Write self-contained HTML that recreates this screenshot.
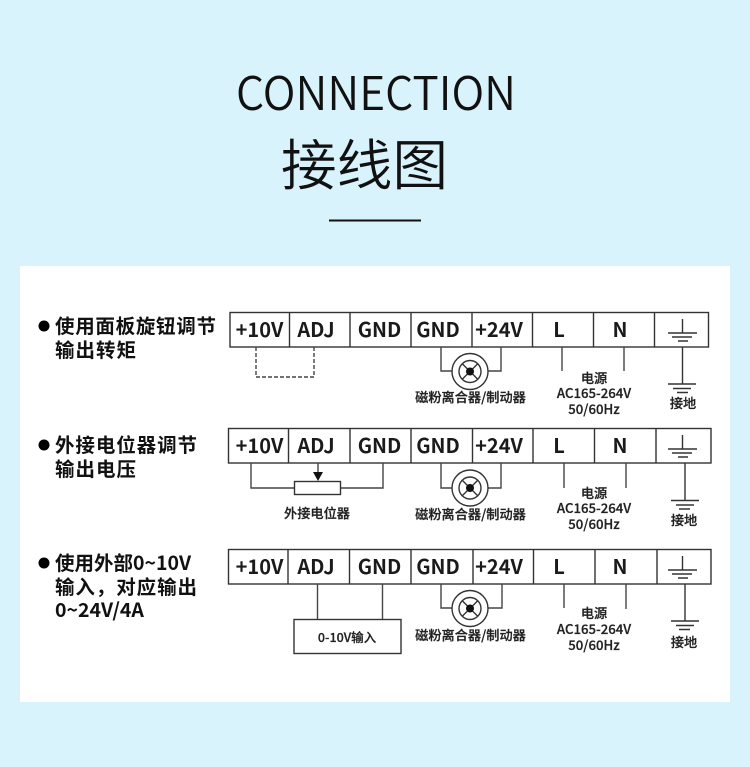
<!DOCTYPE html>
<html><head><meta charset="utf-8"><style>
html,body{margin:0;padding:0;background:#d8f3fb}
svg{display:block}
text{font-family:"Noto Sans CJK SC","Liberation Sans",sans-serif;fill:#111}
.t{font-size:20px;font-weight:700;text-anchor:middle;fill:#1a1a1a}
.l{font-size:19.5px;font-weight:700;fill:#111}
.s{font-size:13.2px;font-weight:500;text-anchor:middle;fill:#222;stroke:#222;stroke-width:.25px}
.b{fill:#fff;stroke:#333;stroke-width:1.4}
.w{fill:none;stroke:#444;stroke-width:1.4}
.g{fill:none;stroke:#333;stroke-width:1.4}
.h{font-weight:350;fill:#111}
</style></head><body>
<svg width="750" height="767" viewBox="0 0 750 767" xmlns="http://www.w3.org/2000/svg">
<rect width="750" height="767" fill="#d8f3fb"/>
<rect x="20" y="266" width="710" height="436" fill="#fff"/>
<text class="h" x="236" y="110" font-size="46.500" textLength="280" lengthAdjust="spacingAndGlyphs">CONNECTION</text>
<text class="h" x="281" y="185" font-size="55" textLength="167" lengthAdjust="spacingAndGlyphs">接线图</text>
<rect x="329" y="219.500" width="92" height="2" fill="#111"/>

<circle cx="44" cy="326" r="5.500" fill="#000"/>
<text class="l" x="55" y="333" textLength="161">使用面板旋钮调节</text>
<text class="l" x="55" y="357" textLength="81">输出转矩</text>
<circle cx="44" cy="445" r="5.500" fill="#000"/>
<text class="l" x="55" y="452" textLength="142">外接电位器调节</text>
<text class="l" x="55" y="476" textLength="81">输出电压</text>
<circle cx="44" cy="563" r="5.500" fill="#000"/>
<text class="l" x="55" y="570">使用外部0~10V</text>
<text class="l" x="55" y="594" textLength="142">输入，对应输出</text>
<text class="l" x="55" y="617">0~24V/4A</text>

<!-- Row 1 -->
<rect class="b" x="230" y="312.500" width="478.500" height="34.500"/>
<path class="g" d="M289.500 312.500V347M350 312.500V347M411 312.500V347M472 312.500V347M532.500 312.500V347M593.500 312.500V347M654.500 312.500V347"/>
<text class="t" x="259.500" y="337">+10V</text><text class="t" x="316" y="337">ADJ</text><text class="t" x="379.500" y="337">GND</text><text class="t" x="438" y="337">GND</text><text class="t" x="499" y="337">+24V</text><text class="t" x="559" y="337">L</text><text class="t" x="620" y="337">N</text>
<path d="M256 347V377H314V347" fill="none" stroke="#444" stroke-width="1.400" stroke-dasharray="4 2"/>
<path class="w" d="M441 347V371H452M501 347V371H488"/>
<circle cx="470" cy="371.500" r="18" fill="#fff" stroke="#333" stroke-width="1.400"/>
<circle cx="470" cy="371.500" r="11" fill="none" stroke="#333" stroke-width="1.400"/>
<path class="g" d="M462 363.500L478 379.500M478 363.500L462 379.500"/>
<circle cx="470" cy="371.500" r="4" fill="#111"/>
<text class="s" x="470.500" y="402">磁粉离合器/制动器</text>
<path class="w" d="M562 347V371M624 347V371"/>
<text class="s" x="594" y="383">电源</text><text class="s" x="594" y="398">AC165-264V</text><text class="s" x="594" y="414">50/60Hz</text>
<path class="g" d="M682.500 319V333M668 333H697M672 337H692M678 341H688M682.500 347V384M668 384H696M673 388.500H691M677 392.500H688"/>
<text class="s" x="683" y="408">接地</text>

<!-- Row 2 -->
<rect class="b" x="228.500" y="428.500" width="482.500" height="34.500"/>
<path class="g" d="M288.500 428.500V463M350 428.500V463M411 428.500V463M472.500 428.500V463M533 428.500V463M594.500 428.500V463M656 428.500V463"/>
<text class="t" x="259.500" y="453">+10V</text><text class="t" x="316" y="453">ADJ</text><text class="t" x="379.500" y="453">GND</text><text class="t" x="438" y="453">GND</text><text class="t" x="499" y="453">+24V</text><text class="t" x="559" y="453">L</text><text class="t" x="620" y="453">N</text>
<path class="w" d="M251 463V488H294M340 488H383V463M318 463V472"/>
<path d="M313 472H323L318 481Z" fill="#111"/>
<rect x="294.500" y="481.500" width="46" height="13" fill="#fff" stroke="#333" stroke-width="1.400"/>
<text class="s" x="317" y="518">外接电位器</text>
<path class="w" d="M441 463V488H452M501 463V488H488"/>
<circle cx="470" cy="488" r="18" fill="#fff" stroke="#333" stroke-width="1.400"/>
<circle cx="470" cy="488" r="11" fill="none" stroke="#333" stroke-width="1.400"/>
<path class="g" d="M462 480L478 496M478 480L462 496"/>
<circle cx="470" cy="488" r="4" fill="#111"/>
<text class="s" x="470.500" y="519">磁粉离合器/制动器</text>
<path class="w" d="M564 463V488M626 463V488"/>
<text class="s" x="594" y="498">电源</text><text class="s" x="594" y="513">AC165-264V</text><text class="s" x="594" y="529">50/60Hz</text>
<path class="g" d="M682.500 435V449M668 449H697M672 453H692M678 457H688M685 463V500.500M671 500.500H699M676 505H694M679 509H690"/>
<text class="s" x="684" y="525">接地</text>

<!-- Row 3 -->
<rect class="b" x="228.500" y="549.500" width="482.500" height="34.500"/>
<path class="g" d="M288 549.500V584M349.500 549.500V584M411 549.500V584M473 549.500V584M533.500 549.500V584M595 549.500V584M657 549.500V584"/>
<text class="t" x="259.500" y="574">+10V</text><text class="t" x="316" y="574">ADJ</text><text class="t" x="379.500" y="574">GND</text><text class="t" x="438" y="574">GND</text><text class="t" x="499" y="574">+24V</text><text class="t" x="559" y="574">L</text><text class="t" x="620" y="574">N</text>
<path class="w" d="M317.500 584V619M382.500 584V619"/>
<rect x="294" y="619.500" width="107" height="34" fill="#fff" stroke="#333" stroke-width="1.400"/>
<text class="s" x="347" y="642" style="font-size:12.5px">0-10V输入</text>
<path class="w" d="M441 584V608H452M502 584V608H488"/>
<circle cx="470" cy="608.500" r="18" fill="#fff" stroke="#333" stroke-width="1.400"/>
<circle cx="470" cy="608.500" r="11" fill="none" stroke="#333" stroke-width="1.400"/>
<path class="g" d="M462 600.500L478 616.500M478 600.500L462 616.500"/>
<circle cx="470" cy="608.500" r="4" fill="#111"/>
<text class="s" x="470.500" y="640">磁粉离合器/制动器</text>
<path class="w" d="M564 584V608M626 584V609"/>
<text class="s" x="594" y="618">电源</text><text class="s" x="594" y="634">AC165-264V</text><text class="s" x="594" y="650">50/60Hz</text>
<path class="g" d="M682.500 556V570M668 570H697M672 574H692M678 578H688M685 584V621M671 621H699M676 625.500H694M679 629.500H690"/>
<text class="s" x="684" y="647">接地</text>
</svg>
</body></html>
